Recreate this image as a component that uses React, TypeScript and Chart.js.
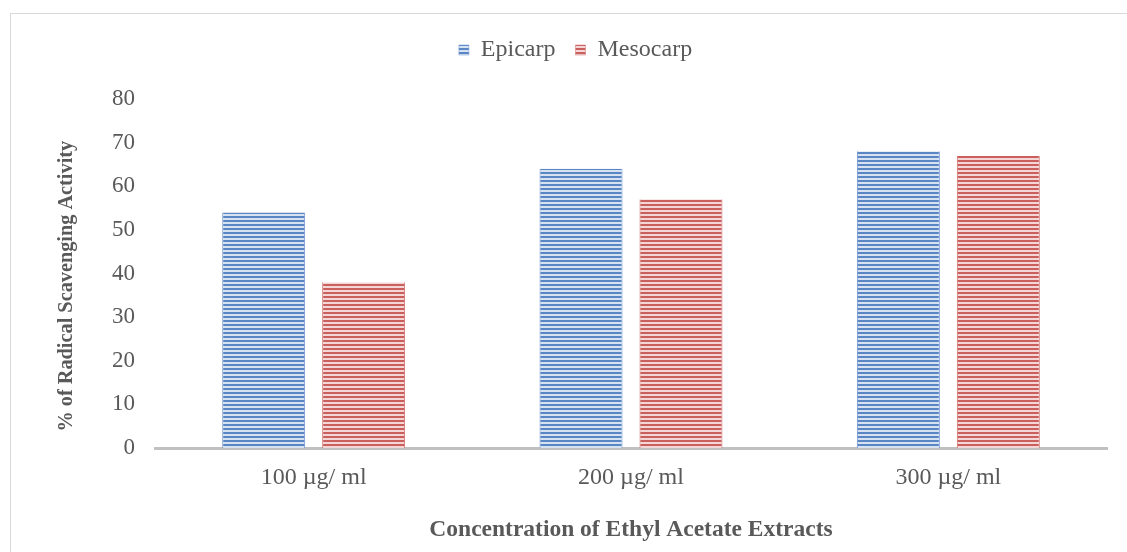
import React, { useEffect, useRef } from "react";
import { Chart, registerables } from "chart.js";

Chart.register(...registerables);

const categories = ["100 µg/ ml", "200 µg/ ml", "300 µg/ ml"];
const seriesNames = ["Epicarp", "Mesocarp"];
const epicarp = [54, 64, 68];
const mesocarp = [38, 57, 67];
const yTicks = [0, 10, 20, 30, 40, 50, 60, 70, 80];

function makeStripe(ctx: CanvasRenderingContext2D, dark: string, light: string) {
  const c = document.createElement("canvas");
  c.width = 4;
  c.height = 4;
  const g = c.getContext("2d")!;
  g.fillStyle = light;
  g.fillRect(0, 0, 4, 4);
  g.fillStyle = dark;
  g.fillRect(0, 0, 4, 2);
  return ctx.createPattern(c, "repeat")!;
}

const LEGEND_PAD = 20;
const LEGEND_FONT = 24;

const legendShift = {
  id: "legendShift",
  afterLayout(chart: any) {
    const lg = chart.legend;
    if (!lg) return;
    const h = lg.bottom - lg.top;
    lg.top = 50 - LEGEND_PAD - LEGEND_FONT / 2;
    lg.bottom = lg.top + h;
  },
};

export default function App() {
  const ref = useRef<HTMLCanvasElement>(null);
  useEffect(() => {
    const canvas = ref.current!;
    const ctx = canvas.getContext("2d")!;
    const bluePat = makeStripe(ctx, "#5a86c4", "#d6e1f1");
    const redPat = makeStripe(ctx, "#c9605d", "#f3d6d5");
    const font = "'Liberation Serif', 'Times New Roman', serif";
    const chart = new Chart(canvas, {
      type: "bar",
      data: {
        labels: categories,
        datasets: [
          { label: seriesNames[0], data: epicarp, backgroundColor: bluePat, borderColor: "#6f95cc", borderWidth: { left: 1, right: 1, top: 0, bottom: 0 } as any },
          { label: seriesNames[1], data: mesocarp, backgroundColor: redPat, borderColor: "#cf6f6c", borderWidth: { left: 1, right: 1, top: 0, bottom: 0 } as any },
        ],
      },
      plugins: [legendShift],
      options: {
        animation: false,
        responsive: false,
        maintainAspectRatio: false,
        layout: { padding: { left: 44, right: 20, top: 1, bottom: 0 } },
        datasets: { bar: { categoryPercentage: 0.63, barPercentage: 0.83 } },
        plugins: {
          tooltip: { enabled: false },
          legend: {
            position: "top",
            labels: {
              boxWidth: 10,
              boxHeight: 10,
              padding: LEGEND_PAD,
              color: "#595959",
              font: { family: font, size: LEGEND_FONT },
            },
          },
        },
        scales: {
          x: {
            grid: { display: false },
            border: { display: true, color: "#c0c0c0", width: 3 },
            ticks: { color: "#595959", font: { family: font, size: 24 }, padding: 7, maxRotation: 0 },
            title: {
              display: true,
              text: "Concentration of Ethyl Acetate Extracts",
              color: "#595959",
              font: { family: font, size: 23.5, weight: "bold" },
              padding: { top: 0, bottom: 8 },
            },
            afterFit: (s: any) => { s.height = 104; },
          },
          y: {
            min: 0,
            max: 80,
            grid: { display: false },
            border: { display: false },
            afterBuildTicks: (s: any) => { s.ticks = yTicks.map((v) => ({ value: v })); },
            ticks: { color: "#595959", font: { family: font, size: 23 }, padding: 12 },
            title: {
              display: true,
              text: "% of Radical Scavenging Activity\u00A0\u00A0\u00A0\u00A0\u00A0",
              color: "#595959",
              font: { family: font, size: 20.3, weight: "bold" },
              padding: { top: 11, bottom: 0 },
            },
            afterFit: (s: any) => { s.width = 111; s.paddingTop = 99; },
          },
        },
      },
    });
    return () => chart.destroy();
  }, []);
  return (
    <div style={{ position: "absolute", left: 0, top: 0, width: 1127, height: 552, overflow: "hidden", background: "#fff" }}>
      <div style={{ position: "absolute", left: 10, top: 13, width: 1140, height: 600, border: "1px solid #d9d9d9" }} />
      <canvas ref={ref} width={1127} height={552} style={{ position: "absolute", left: 0, top: 0 }} />
    </div>
  );
}
